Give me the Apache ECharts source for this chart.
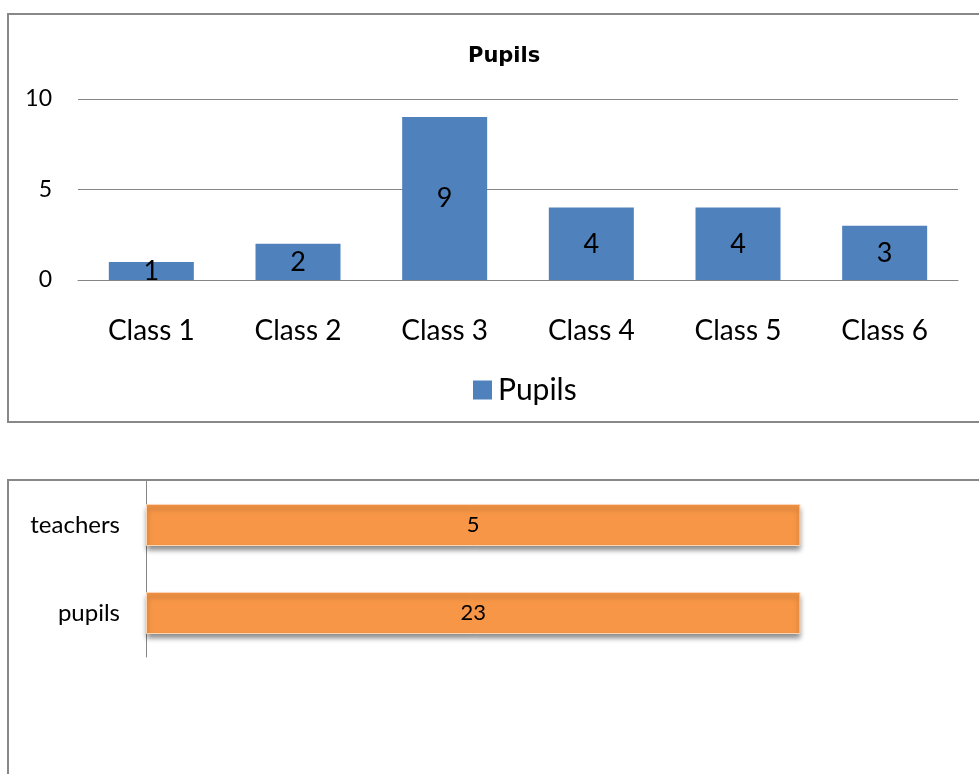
<!DOCTYPE html>
<html>
<head>
<meta charset="utf-8">
<script src="https://cdn.jsdelivr.net/npm/echarts@6/dist/echarts.min.js"></script>
<style>
html,body{margin:0;padding:0;background:#fff;}
#chart{width:979px;height:774px;}
</style>
</head>
<body>
<div id="chart"></div>
<script>
// Top chart data
const classCategories = ['Class 1', 'Class 2', 'Class 3', 'Class 4', 'Class 5', 'Class 6'];
const pupilsPerClass = [1, 2, 9, 4, 4, 3];
const yTickValues = [0, 5, 10];

// Bottom chart data (100% stacked bar, one series)
const totalsCategories = ['teachers', 'pupils'];
const totalsValues = [5, 23];

// percent-stacked share of each row (single series -> its own row total)
const rowTotals = totalsValues.map(v => v);
const totalsShare = totalsValues.map((v, i) => rowTotals[i] ? (v / rowTotals[i]) * 100 : 0);

const chart = echarts.init(document.getElementById('chart'), null, {renderer: 'canvas'});
const FONT = 'Lato';

chart.setOption({
  animation: false,
  backgroundColor: '#ffffff',
  title: {
    text: 'Pupils',
    left: 463,
    top: 41,
    textStyle: {fontFamily: 'DejaVu Sans', fontWeight: 'bold', fontSize: 21, color: '#000'}
  },
  legend: {
    data: ['Pupils'],
    left: 468,
    top: 370,
    icon: 'rect',
    itemWidth: 19,
    itemHeight: 19,
    itemGap: 10,
    textStyle: {fontFamily: FONT, fontSize: 30, color: '#000', padding: [0, 0, 0, 1]}
  },
  graphic: [
    {type: 'rect', shape: {x: 8, y: 14, width: 1000, height: 408}, style: {fill: 'none', stroke: '#888888', lineWidth: 2}, z: 0},
    {type: 'rect', shape: {x: 8, y: 480, width: 1000, height: 320}, style: {fill: 'none', stroke: '#888888', lineWidth: 2}, z: 0}
  ],
  grid: [
    {left: 78, top: 99, width: 880, height: 181},
    {left: 146, top: 481, width: 818, height: 176}
  ],
  xAxis: [
    {
      gridIndex: 0,
      type: 'category',
      data: classCategories,
      axisLine: {show: true, lineStyle: {color: '#868686', width: 1}},
      axisTick: {show: false},
      axisLabel: {fontFamily: FONT, fontSize: 28, color: '#000', margin: 37}
    },
    {
      gridIndex: 1,
      type: 'value',
      min: 0,
      max: 125,
      show: false,
      splitLine: {show: false}
    }
  ],
  yAxis: [
    {
      gridIndex: 0,
      type: 'value',
      min: yTickValues[0],
      max: yTickValues[yTickValues.length - 1],
      interval: yTickValues[1] - yTickValues[0],
      axisLine: {show: false},
      axisTick: {show: false},
      splitLine: {show: true, lineStyle: {color: '#868686', width: 1}},
      axisLabel: {fontFamily: FONT, fontSize: 23, color: '#000', margin: 26}
    },
    {
      gridIndex: 1,
      type: 'category',
      data: totalsCategories,
      inverse: true,
      axisLine: {show: true, lineStyle: {color: '#868686', width: 1}},
      axisTick: {show: false},
      axisLabel: {fontFamily: FONT, fontSize: 24, color: '#000', margin: 26}
    }
  ],
  series: [
    {
      name: 'Pupils',
      type: 'bar',
      xAxisIndex: 0,
      yAxisIndex: 0,
      data: pupilsPerClass,
      barWidth: 85,
      itemStyle: {color: '#4F81BD'},
      label: {show: true, position: 'inside', fontFamily: FONT, fontSize: 27, color: '#000'}
    },
    {
      name: 'Totals',
      type: 'bar',
      stack: 'percent',
      xAxisIndex: 1,
      yAxisIndex: 1,
      data: totalsShare,
      barWidth: 42,
      itemStyle: {
        color: '#F79646',
        borderColor: '#FBD5B5',
        borderWidth: 1,
        shadowColor: 'rgba(0,0,0,0.45)',
        shadowBlur: 5,
        shadowOffsetY: 4
      },
      label: {
        show: true,
        position: 'inside',
        fontFamily: FONT,
        fontSize: 22,
        color: '#000',
        formatter: p => String(totalsValues[p.dataIndex])
      }
    }
  ]
});
</script>
</body>
</html>
